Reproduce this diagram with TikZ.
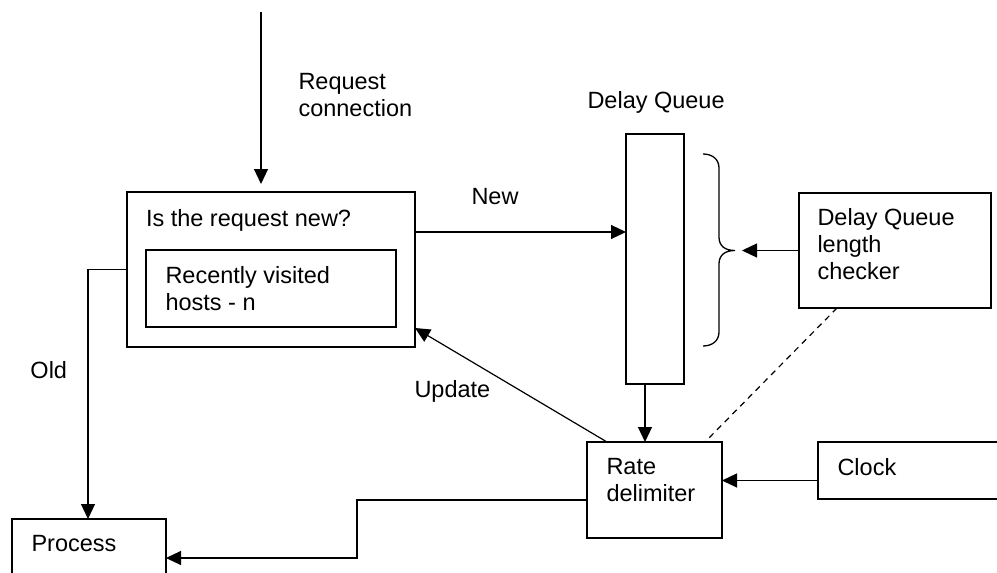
\documentclass[tikz,border=0pt]{standalone}
\usepackage{fontspec}
\setmainfont{Liberation Sans}
\usetikzlibrary{arrows.meta,calc}
\begin{document}
\begin{tikzpicture}[x=1pt,y=-1pt,
  box/.style={draw,line width=1.5pt,inner sep=0pt,outer sep=0pt,rectangle},
  lbl/.style={font=\fontsize{23.5}{27}\selectfont,anchor=north west,inner sep=0pt,outer sep=0pt,align=left},
  conn/.style={line width=1.2pt},
  arr/.style={conn,-{Triangle[length=15pt,width=14pt]}}]
\useasboundingbox (0,0) rectangle (997,573);
\clip (0,0) rectangle (997,573);
% boxes
\node[box,minimum width=288pt,minimum height=155pt] (outer) at (271,269.5) {};
\node[box,minimum width=250pt,minimum height=77pt] (inner) at (271,288.5) {};
\node[box,minimum width=58pt,minimum height=250pt] (queue) at (655,259) {};
\node[box,minimum width=192pt,minimum height=115pt] (dqlc) at (895,250.5) {};
\node[box,minimum width=135pt,minimum height=96pt] (rate) at (654.5,490) {};
\node[box,minimum width=200pt,minimum height=57pt] (clock) at (918,470.5) {};
\node[box,minimum width=154pt,minimum height=71pt] (process) at (89,554.5) {};
% texts
\node[lbl] (treq) at (298.5,73.2) {Request\\connection};
\node[lbl] (tnew?) at (146,209.2) {Is the request new?};
\node[lbl] (trec) at (165.5,266.2) {Recently visited\\hosts - n};
\node[lbl] (tnew) at (471.5,188.2) {New};
\node[lbl] (tdq) at (587.5,91.2) {Delay Queue};
\node[lbl] (tdqlc) at (817.5,208.2) {Delay Queue\\length\\checker};
\node[lbl] (told) at (30.5,361) {Old};
\node[lbl] (tupd) at (414.5,380) {Update};
\node[lbl] (trate) at (606.5,458) {Rate\\delimiter};
\node[lbl] (tclock) at (837.5,458) {Clock};
\node[lbl] (tproc) at (31.5,535) {Process};
% brace
\draw[line width=1.3pt] (703,154) .. controls (712,154) and (719,159) .. (719,168) -- (719,237)
  .. controls (719,246) and (725,250.5) .. (735,250.5)
  .. controls (725,250.5) and (719,255) .. (719,264) -- (719,332)
  .. controls (719,341) and (712,346) .. (703,346);
\coordinate (bracetip) at (742,250.5);
% connectors
\coordinate (reqsrc) at (261,12);
\coordinate (reqend) at (261,184);
\draw[arr] (reqsrc) -- (reqend);
\draw[arr] ($(outer.north east)+(0,40)$) coordinate (n1) -- (n1 -| queue.west);
\draw[arr] (dqlc.west) -- (bracetip);
\draw[arr] ($(queue.south)+(-10,0)$) coordinate (q1) -- (q1 |- rate.north);
\draw[conn,dash pattern=on 6pt off 5pt] ($(dqlc.south west)+(38,0)$) -- ($(rate.north east)+(-17,0)$);
\draw[arr] ($(rate.north west)+(20,0)$) -- ($(outer.south east)+(0,-19)$);
\draw[arr] ($(clock.west)+(0,10)$) coordinate (c1) -- (c1 -| rate.east);
\coordinate (pk) at (357,558);
\draw[arr] ($(rate.west)+(0,10)$) -| (pk) -- (pk -| process.east);
\draw[arr] (outer.west) -| ($(process.north)+(-1,0)$);
\end{tikzpicture}
\end{document}
